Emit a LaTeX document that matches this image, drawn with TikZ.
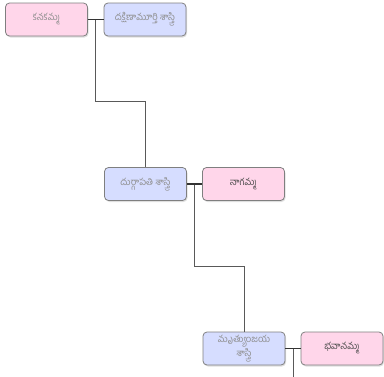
\documentclass[tikz,border=0pt]{standalone}
\usepackage{fontspec}
\newfontfamily\telugu[Script=Telugu]{Hind Guntur}
\usetikzlibrary{calc,shadows}
\definecolor{pinkbox}{HTML}{FFD6EA}
\definecolor{bluebox}{HTML}{D6DDFF}
\definecolor{boxline}{HTML}{7F7F7F}
\definecolor{deadtext}{HTML}{8E8E8E}
\definecolor{livetext}{HTML}{4A4A4A}
\begin{document}
\begin{tikzpicture}[x=1pt,y=-1pt,
    person/.style={rectangle,rounded corners=4pt,draw=boxline,line width=0.8pt,
      minimum width=82pt,minimum height=33pt,inner sep=1pt,align=center,
      font=\telugu\fontsize{9.5}{10.5}\selectfont,
      drop shadow={shadow xshift=1pt,shadow yshift=-1.5pt,opacity=0.25}},
    female/.style={person,fill=pinkbox},
    male/.style={person,fill=bluebox},
    dead/.style={text=deadtext},
    alive/.style={text=livetext},
    couple/.style={draw=black!80,line width=1.8pt},
    child/.style={draw=black!65,line width=0.8pt}]
  \useasboundingbox (0,0) rectangle (384,376);

  % generation 1
  \node [female,dead] (kanakamma) at (46.5,19.5) {కనకమ్మ};
  \node [male,dead] (dakshina) at (145,19.5) {దక్షిణామూర్తి శాస్త్రి};
  % generation 2
  \node [male,dead] (durgapati) at (145.5,184) {దుర్గాపతి శాస్త్రి};
  \node [female,alive] (nagamma) at (243.5,184) {నాగమ్మ};
  % generation 3
  \node [male,dead] (mrityunjaya) at (244,348.5) {మృత్యుంజయ\\శాస్త్రి};
  \node [female,alive] (bhavanamma) at (342,348.5) {భవానమ్మ};

  \coordinate (m1) at ($(kanakamma.east)!0.5!(dakshina.west)$);
  \coordinate (m2) at ($(durgapati.east)!0.5!(nagamma.west)$);
  \coordinate (m3) at ($(mrityunjaya.east)!0.5!(bhavanamma.west)$);
  \coordinate (down3) at ($(m3)+(0,30)$);

  \draw [child] (m1) -- ++(0,82) -| (durgapati.north);
  \draw [child] (m2) -- ++(0,82) -| (mrityunjaya.north);
  \draw [child] (m3) -- (down3);

  \draw [couple] (kanakamma.east) -- (dakshina.west);
  \draw [couple] (durgapati.east) -- (nagamma.west);
  \draw [couple] (mrityunjaya.east) -- (bhavanamma.west);
\end{tikzpicture}
\end{document}
